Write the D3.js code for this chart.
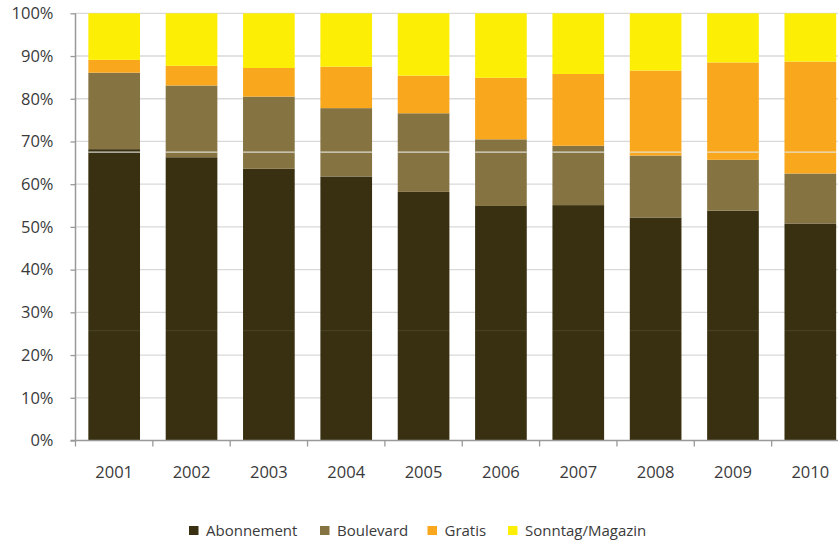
<!DOCTYPE html>
<html>
<head>
<meta charset="utf-8">
<script src="https://cdn.jsdelivr.net/npm/d3@7"></script>
<style>
  html, body { margin: 0; padding: 0; background: #fff; }
  svg { display: block; font-family: "Open Sans", "Noto Sans", sans-serif; }
</style>
</head>
<body>
<svg id="chart" width="838" height="541"></svg>
<script>
// Shares of circulation by newspaper type, in percent
const years = ["2001", "2002", "2003", "2004", "2005", "2006", "2007", "2008", "2009", "2010"];
const seriesNames = ["Abonnement", "Boulevard", "Gratis", "Sonntag/Magazin"];
const abonnement = [68.2, 66.3, 63.6, 61.8, 58.2, 54.9, 55.1, 52.2, 53.8, 50.8];
const boulevard  = [17.9, 16.8, 16.9, 16.0, 18.4, 15.6, 13.9, 14.5, 11.9, 11.7];
const gratis     = [ 3.0,  4.6,  6.7,  9.7,  8.8, 14.4, 16.8, 19.9, 22.8, 26.2];
const sonntag    = [10.9, 12.3, 12.8, 12.5, 14.6, 15.1, 14.2, 13.4, 11.5, 11.3];
const yTicks = [0, 10, 20, 30, 40, 50, 60, 70, 80, 90, 100];
const colors = ["#383010", "#857342", "#f9a81d", "#fdee05"];

const rows = years.map((yr, i) => ({
  year: yr,
  "Abonnement": abonnement[i],
  "Boulevard": boulevard[i],
  "Gratis": gratis[i],
  "Sonntag/Magazin": sonntag[i]
}));

const svg = d3.select("#chart");
const plotLeft = 75.5, plotRight = 849, plotTop = 13.3, plotBottom = 440.5;
const textColor = "#3a3a3a";

const x = d3.scaleBand().domain(years).range([plotLeft, plotRight])
  .paddingInner(0.332).paddingOuter(0.166);
const y = d3.scaleLinear().domain([0, 100]).range([plotBottom, plotTop]);
const color = d3.scaleOrdinal().domain(seriesNames).range(colors);

// horizontal grid
svg.append("g").selectAll("line").data(yTicks.filter(d => d > 0)).join("line")
  .attr("x1", plotLeft).attr("x2", 838)
  .attr("y1", d => y(d)).attr("y2", d => y(d))
  .attr("stroke", "#d9d9d9").attr("stroke-width", 1.3);

// stacked bars
const stacked = d3.stack().keys(seriesNames)(rows);
svg.append("g").selectAll("g").data(stacked).join("g")
  .attr("fill", d => color(d.key))
  .selectAll("rect").data(d => d).join("rect")
  .attr("x", d => x(d.data.year))
  .attr("width", x.bandwidth())
  .attr("y", d => y(d[1]))
  .attr("height", d => y(d[0]) - y(d[1]));

// faint light seams running through the columns
const seams = [{ v: 67.5, c: "#e6e6e0", o: 0.9 }, { v: 25.7, c: "#ffffff", o: 0.08 }];
seams.forEach(s => {
  svg.append("g").selectAll("line").data(years).join("line")
    .attr("x1", d => x(d)).attr("x2", d => x(d) + x.bandwidth())
    .attr("y1", y(s.v)).attr("y2", y(s.v))
    .attr("stroke", s.c).attr("stroke-opacity", s.o).attr("stroke-width", 1.2);
});

// y axis
const yAxis = svg.append("g").attr("transform", `translate(${plotLeft},0)`)
  .call(d3.axisLeft(y).tickValues(yTicks).tickFormat(d => d + "%").tickSize(5).tickPadding(17));
yAxis.select(".domain").attr("stroke", "#999").attr("stroke-width", 1.5).attr("d", `M0,${plotTop}V${plotBottom}`);
yAxis.selectAll(".tick line").attr("stroke", "#999").attr("stroke-width", 1.3);
yAxis.selectAll(".tick text").attr("fill", textColor).attr("font-size", 16.5)
  .attr("font-family", "'Open Sans', sans-serif");

// x axis with ticks at category boundaries
const xAxisG = svg.append("g").attr("transform", `translate(0,${plotBottom})`);
xAxisG.append("line").attr("x1", plotLeft - 5).attr("x2", 838).attr("y1", 0).attr("y2", 0)
  .attr("stroke", "#999").attr("stroke-width", 1.5);
const step = x.step();
const bounds = years.map(yr => x(yr) - x.paddingInner() * step / 2);
bounds.push(bounds[bounds.length - 1] + step);
xAxisG.selectAll(".bt").data(bounds).join("line")
  .attr("class", "bt")
  .attr("x1", d => d).attr("x2", d => d).attr("y1", 0).attr("y2", 6)
  .attr("stroke", "#999").attr("stroke-width", 1.3);
xAxisG.selectAll(".yl").data(years).join("text")
  .attr("class", "yl")
  .attr("x", d => x(d) + x.bandwidth() / 2)
  .attr("y", 37)
  .attr("text-anchor", "middle")
  .attr("fill", textColor).attr("font-size", 16.5)
  .text(d => d);

// legend
const legendX = [189, 320, 427.5, 508];
const legend = svg.append("g");
seriesNames.forEach((name, i) => {
  const g = legend.append("g").attr("transform", `translate(${legendX[i]},526)`);
  g.append("rect").attr("width", 9.5).attr("height", 9).attr("fill", colors[i]);
  g.append("text").attr("x", 17).attr("y", 10)
    .attr("fill", textColor).attr("font-size", 15).text(name);
});
</script>
</body>
</html>
